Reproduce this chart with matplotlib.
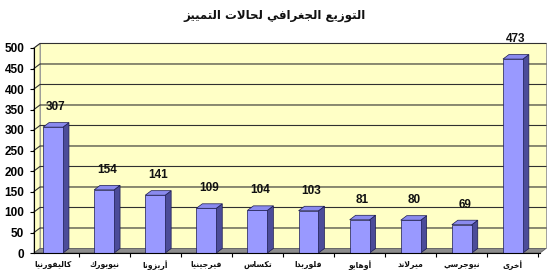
import matplotlib
matplotlib.use("Agg")
import matplotlib.pyplot as plt
from matplotlib.patches import Polygon, Rectangle

# ---------------- data ----------------
title_text = "التوزيع الجغرافي لحالات التمييز"
categories = ["كاليفورنيا", "نيويورك", "أريزونا", "فيرجينيا", "تكساس",
              "فلوريدا", "أوهايو", "ميرلاند", "نيوجرسي", "أخرى"]
values = [307, 154, 141, 109, 104, 103, 81, 80, 69, 473]
yticks = list(range(0, 501, 50))

# ------------- simple Arabic shaper (presentation forms + RTL) -------------
FORMS = {
    'ا': ('\uFE8D', '\uFE8E', None, None),
    'أ': ('\uFE83', '\uFE84', None, None),
    'ت': ('\uFE95', '\uFE96', '\uFE97', '\uFE98'),
    'ج': ('\uFE9D', '\uFE9E', '\uFE9F', '\uFEA0'),
    'ح': ('\uFEA1', '\uFEA2', '\uFEA3', '\uFEA4'),
    'خ': ('\uFEA5', '\uFEA6', '\uFEA7', '\uFEA8'),
    'د': ('\uFEA9', '\uFEAA', None, None),
    'ر': ('\uFEAD', '\uFEAE', None, None),
    'ز': ('\uFEAF', '\uFEB0', None, None),
    'س': ('\uFEB1', '\uFEB2', '\uFEB3', '\uFEB4'),
    'ع': ('\uFEC9', '\uFECA', '\uFECB', '\uFECC'),
    'غ': ('\uFECD', '\uFECE', '\uFECF', '\uFED0'),
    'ف': ('\uFED1', '\uFED2', '\uFED3', '\uFED4'),
    'ك': ('\uFED9', '\uFEDA', '\uFEDB', '\uFEDC'),
    'ل': ('\uFEDD', '\uFEDE', '\uFEDF', '\uFEE0'),
    'م': ('\uFEE1', '\uFEE2', '\uFEE3', '\uFEE4'),
    'ن': ('\uFEE5', '\uFEE6', '\uFEE7', '\uFEE8'),
    'ه': ('\uFEE9', '\uFEEA', '\uFEEB', '\uFEEC'),
    'و': ('\uFEED', '\uFEEE', None, None),
    'ى': ('\uFEEF', '\uFEF0', None, None),
    'ي': ('\uFEF1', '\uFEF2', '\uFEF3', '\uFEF4'),
    'لا': ('\uFEFB', '\uFEFC', None, None),
    'لأ': ('\uFEF7', '\uFEF8', None, None),
}


def shape(s):
    units = []
    i = 0
    while i < len(s):
        if s[i] == 'ل' and i + 1 < len(s) and s[i + 1] in 'اأ':
            units.append(s[i:i + 2])
            i += 2
        else:
            units.append(s[i])
            i += 1
    out = []
    for k, u in enumerate(units):
        if u not in FORMS:
            out.append(u)
            continue
        f = FORMS[u]
        prev = units[k - 1] if k > 0 else None
        nxt = units[k + 1] if k + 1 < len(units) else None
        cp = prev in FORMS and FORMS[prev][2] is not None
        cn = nxt in FORMS and f[2] is not None
        if cp and cn:
            out.append(f[3])
        elif cp:
            out.append(f[1])
        elif cn:
            out.append(f[2])
        else:
            out.append(f[0])
    return ''.join(out)[::-1]


# ---------------- figure ----------------
W, H = 550, 276
fig = plt.figure(figsize=(W / 100, H / 100), dpi=100)
fig.patch.set_facecolor('white')

px_left, px_right = 34, 540
px_y0, px_y500 = 253, 48
ax = fig.add_axes([px_left / W, (H - px_y0) / H,
                   (px_right - px_left) / W, (px_y0 - px_y500) / H])
xl, xr = -0.372, 9.53
ax.set_xlim(xl, xr)
ax.set_ylim(0, 500)
ax.set_facecolor('none')

dx, dy = 0.117, 11.0
bw = 0.39

wall_c = '#FFFFC6'
grid_c = '#303030'
# left side wall
ax.add_patch(Polygon([(xl, 0), (xl + dx, dy), (xl + dx, 500 + dy), (xl, 500)],
                     closed=True, facecolor=wall_c, edgecolor='#909090', lw=0.6,
                     clip_on=False, zorder=0))
# back wall
ax.add_patch(Rectangle((xl + dx, dy), xr - xl, 500, facecolor=wall_c,
                       edgecolor='#909090', lw=0.6, clip_on=False, zorder=0))
# floor
ax.add_patch(Polygon([(xl, 0), (xr, 0), (xr + dx, dy), (xl + dx, dy)], closed=True,
                     facecolor='#8C8C8C', edgecolor='#606060', lw=0.6,
                     clip_on=False, zorder=1))
# gridlines
for t in yticks[1:]:
    ax.plot([xl, xl + dx, xr + dx], [t, t + dy, t + dy], color=grid_c, lw=0.8,
            clip_on=False, zorder=1)

# bars
front_c, side_c, top_c, edge_c = '#9999FF', '#4C4C99', '#8A8AEE', '#1A1A50'
for i, v in enumerate(values):
    x0, x1 = i - bw / 2, i + bw / 2
    ax.add_patch(Polygon([(x1, 0), (x1 + dx, dy), (x1 + dx, v + dy), (x1, v)],
                         closed=True, facecolor=side_c, edgecolor=edge_c, lw=0.5,
                         clip_on=False, zorder=3))
    ax.add_patch(Polygon([(x0, v), (x1, v), (x1 + dx, v + dy), (x0 + dx, v + dy)],
                         closed=True, facecolor=top_c, edgecolor=edge_c, lw=0.5,
                         clip_on=False, zorder=3))
    ax.add_patch(Rectangle((x0, 0), bw, v, facecolor=front_c, edgecolor=edge_c,
                           lw=0.5, clip_on=False, zorder=4))
    ax.annotate(str(v), xy=(i + dx / 2, v), xytext=(0, 14.5), textcoords='offset points',
                ha='center', va='center', fontsize=8.5, fontweight='bold',
                family='Liberation Sans', color='#111111', annotation_clip=False,
                zorder=5)

# axes lines / ticks
for s in ['top', 'right']:
    ax.spines[s].set_visible(False)
ax.spines['left'].set_color('black')
ax.spines['bottom'].set_color('black')
ax.spines['left'].set_linewidth(0.8)
ax.spines['bottom'].set_linewidth(0.8)
ax.spines['left'].set_zorder(6)
ax.spines['bottom'].set_zorder(6)
ax.set_yticks(yticks)
ax.set_yticklabels([str(t) for t in yticks], fontsize=8.5, fontweight='bold',
                   family='Liberation Sans')
ax.tick_params(axis='y', direction='out', length=3, width=0.8, pad=4)

ax.set_xticks([i + 0.5 for i in range(len(categories))])
ax.set_xticklabels([])
ax.tick_params(axis='x', direction='out', length=3, width=0.8)
for i, c in enumerate(categories):
    ax.text(i, -29, shape(c), ha='center', va='center', fontsize=5.5,
            family='DejaVu Sans', fontweight='bold', color='#111111', clip_on=False)

fig.text(0.5, 1 - 16 / H, shape(title_text), ha='center', va='center',
         fontsize=8.5, fontweight='bold', family='DejaVu Sans', color='#111111')

fig.savefig('out.png', dpi=100)
